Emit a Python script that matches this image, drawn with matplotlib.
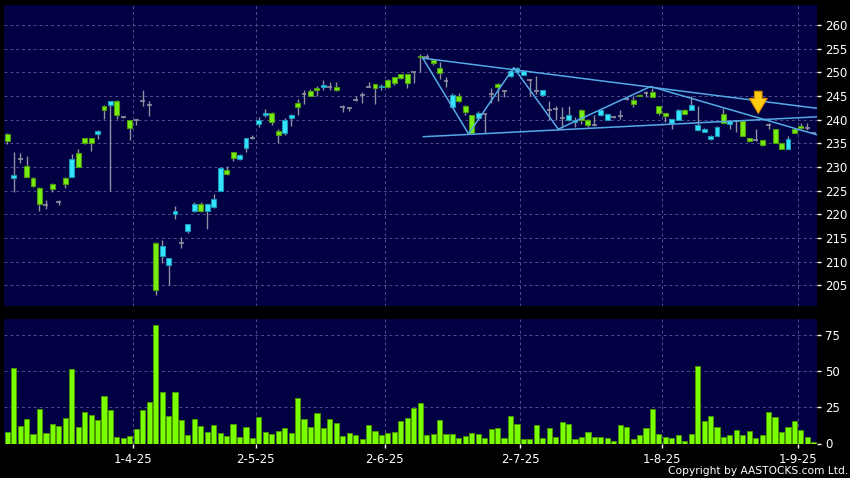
import pandas as pd
import matplotlib
matplotlib.use('Agg')
import matplotlib.pyplot as plt

# HK trading days, first bar 4 Mar 2025
START_DATE = '2025-03-04'
HOLIDAYS = ['2025-04-04', '2025-04-18', '2025-04-21', '2025-05-01', '2025-05-05', '2025-07-01']

opens = [237.0, 227.6, 231.7, 230.3, 227.7, 225.6, 221.9, 226.5, 222.6, 227.7,
         227.9, 232.9, 236.1, 236.1, 236.9, 242.8, 243.1, 244.0, 240.6, 239.9,
         240.0, 244.0, 243.0, 214.0, 211.2, 209.3, 220.1, 214.0, 216.5, 220.8,
         222.2, 220.8, 221.5, 224.9, 229.4, 233.1, 231.6, 234.0, 236.1, 239.1,
         241.0, 241.5, 237.6, 237.2, 240.4, 243.5, 245.5, 246.0, 246.7, 246.8,
         246.8, 246.8, 242.7, 242.5, 244.1, 245.3, 247.0, 247.5, 246.8, 248.4,
         249.0, 249.6, 249.6, 250.0, 253.4, 253.2, 252.6, 251.0, 248.1, 242.7,
         245.1, 242.9, 240.9, 240.3, 241.1, 245.4, 247.6, 246.1, 249.3, 250.1,
         249.5, 248.3, 246.1, 245.2, 242.1, 242.3, 240.35, 239.9, 239.5, 242.1,
         240.0, 238.9, 240.9, 240.0, 240.6, 240.7, 244.4, 244.2, 245.3, 245.7,
         245.8, 242.8, 241.4, 239.3, 240.0, 242.1, 242.1, 237.8, 237.4, 235.9,
         236.6, 241.2, 239.0, 239.8, 239.8, 236.1, 235.8, 235.6, 238.8, 238.0,
         235.0, 233.9, 238.1, 238.7, 238.3, 237.2]
highs = [237.1, 233.1, 233.0, 232.4, 227.8, 225.7, 223.0, 226.7, 223.0, 227.8,
         232.8, 233.8, 236.2, 236.2, 237.9, 243.0, 244.0, 244.1, 240.8, 240.0,
         240.1, 246.3, 244.0, 214.1, 214.6, 210.8, 221.8, 215.2, 217.9, 222.6,
         222.6, 222.1, 224.3, 229.9, 230.3, 233.2, 232.7, 236.2, 236.8, 240.5,
         242.2, 241.6, 238.0, 240.4, 241.1, 244.3, 246.2, 246.5, 247.2, 248.4,
         247.9, 247.9, 243.0, 242.6, 244.9, 245.8, 248.0, 247.6, 247.5, 248.5,
         249.1, 249.7, 249.7, 250.1, 253.8, 253.8, 252.9, 252.1, 249.1, 245.7,
         245.7, 243.0, 241.0, 241.9, 241.3, 246.6, 247.7, 246.2, 250.5, 251.2,
         250.4, 248.5, 249.3, 246.3, 243.9, 242.8, 242.6, 242.8, 240.6, 242.2,
         240.1, 241.0, 242.2, 241.3, 240.8, 242.1, 244.6, 245.1, 245.4, 246.1,
         246.6, 242.9, 241.5, 240.2, 242.2, 242.2, 245.1, 242.9, 238.2, 236.7,
         238.6, 242.4, 239.9, 240.0, 239.9, 236.2, 238.1, 235.7, 239.4, 238.1,
         235.1, 236.5, 238.2, 239.4, 239.4, 237.4]
lows = [234.8, 224.7, 230.8, 227.9, 225.8, 220.8, 221.1, 224.7, 221.9, 225.6,
        227.9, 230.1, 234.8, 233.4, 235.9, 240.1, 225.0, 240.1, 240.3, 235.7,
        238.8, 242.9, 240.8, 202.9, 209.8, 205.0, 219.0, 212.9, 216.0, 220.6,
        220.6, 217.0, 221.4, 224.9, 228.4, 231.2, 231.5, 233.1, 236.0, 238.5,
        240.6, 238.8, 235.0, 236.8, 238.6, 241.0, 243.3, 245.0, 244.9, 246.3,
        246.2, 246.0, 241.6, 241.8, 243.9, 243.5, 246.8, 243.3, 246.3, 246.7,
        247.3, 248.5, 246.6, 247.8, 250.1, 252.8, 251.6, 248.6, 246.9, 242.6,
        243.7, 241.0, 236.9, 240.0, 237.1, 243.6, 243.9, 244.8, 249.0, 250.0,
        249.4, 245.0, 245.4, 245.1, 240.0, 240.0, 238.3, 239.8, 238.4, 239.0,
        238.5, 238.6, 240.8, 239.9, 240.4, 240.1, 244.2, 242.6, 244.9, 244.8,
        244.7, 240.9, 239.6, 238.1, 239.9, 241.1, 242.0, 237.7, 237.3, 235.8,
        236.5, 239.2, 238.1, 237.4, 236.5, 235.3, 235.5, 234.5, 238.1, 235.0,
        233.9, 233.8, 237.2, 238.1, 237.8, 237.0]
closes = [235.4, 228.4, 231.7, 227.9, 226.0, 222.1, 221.9, 225.4, 222.6, 226.5,
          231.7, 230.1, 235.1, 235.1, 237.7, 242.0, 244.0, 241.0, 240.6, 238.2,
          240.0, 244.0, 243.0, 204.1, 213.4, 210.8, 220.7, 214.0, 217.9, 222.2,
          220.8, 222.1, 223.3, 229.8, 228.5, 231.9, 232.6, 236.1, 236.1, 240.0,
          241.5, 239.6, 236.8, 240.0, 241.0, 242.7, 245.5, 245.1, 246.2, 247.4,
          246.8, 246.3, 242.7, 242.5, 244.1, 245.3, 247.0, 246.6, 247.2, 247.0,
          247.8, 248.7, 247.8, 250.0, 253.2, 253.2, 252.0, 249.8, 248.1, 245.3,
          243.9, 241.6, 237.1, 241.4, 241.1, 245.4, 246.8, 246.1, 250.3, 251.0,
          250.3, 248.3, 246.1, 246.2, 242.1, 242.3, 240.35, 240.9, 240.0, 240.0,
          238.8, 238.9, 242.1, 241.2, 240.6, 240.7, 244.4, 243.3, 245.0, 245.7,
          244.8, 241.5, 240.7, 240.1, 242.1, 241.2, 243.1, 238.8, 238.1, 236.6,
          238.5, 239.3, 239.8, 239.8, 236.5, 235.4, 235.8, 234.6, 238.8, 235.0,
          233.9, 235.9, 237.2, 238.2, 238.3, 237.2]
volumes = [8.1, 52.1, 12.0, 16.9, 6.7, 23.8, 7.2, 13.7, 12.0, 17.6,
           51.9, 11.3, 21.8, 19.7, 16.2, 32.6, 23.1, 4.4, 3.9, 5.3,
           10.0, 23.4, 28.7, 82.0, 35.9, 18.8, 35.4, 16.2, 5.8, 16.9,
           12.0, 8.3, 12.5, 7.6, 5.3, 13.2, 4.6, 11.1, 3.7, 18.1,
           8.3, 6.3, 8.8, 10.4, 7.2, 31.3, 16.9, 11.3, 21.1, 10.9,
           17.1, 14.1, 5.1, 7.2, 5.6, 2.8, 12.7, 9.0, 5.6, 7.2,
           8.1, 15.5, 17.8, 24.5, 28.0, 5.6, 6.3, 16.2, 6.9, 6.3,
           3.5, 5.1, 7.6, 6.9, 3.7, 10.2, 10.6, 3.7, 19.4, 13.2,
           2.8, 2.8, 12.5, 3.7, 10.9, 4.4, 14.6, 13.4, 3.0, 4.6,
           7.9, 4.2, 4.6, 3.5, 1.6, 12.7, 11.1, 2.8, 5.6, 10.4,
           23.8, 6.9, 4.4, 3.7, 6.0, 1.6, 6.9, 53.5, 15.5, 19.0,
           11.3, 4.4, 6.0, 9.3, 6.0, 8.8, 3.9, 6.0, 21.8, 18.3,
           7.9, 11.1, 15.5, 9.7, 4.6, 0.7]

# drawn trend lines (bar index, price)
zigzag_x = [64.4, 71.5, 78.5, 85.4, 99.7, 125.5]
zigzag_y = [253.0, 237.0, 251.0, 238.0, 247.0, 236.8]
upper_x = [64.4, 125.5]
upper_y = [253.0, 242.4]
lower_x = [64.5, 125.5]
lower_y = [236.4, 240.6]

arrow_x = 116.4
arrow_top = 246.0
arrow_tip = 241.3

price_ticks = list(range(205, 261, 5))
volume_ticks = [0, 25, 50, 75]

BG = '#000042'
GRID = '#50508c'
GREEN = '#77ee11'
GREEN_EDGE = '#4f9a10'
CYAN = '#33e6ff'
CYAN_EDGE = '#1d97b5'
WICK = '#9090a2'
LINE = '#55aae6'

n = len(closes)
dates = pd.bdate_range(START_DATE, periods=n, freq='C', holidays=HOLIDAYS)
xs = list(range(n))

tick_pos = []
tick_labels = []
for i in range(1, n):
    if dates[i].month != dates[i - 1].month:
        tick_pos.append(i - 0.5)
        tick_labels.append(f"{dates[i].day}-{dates[i].month}-{dates[i]:%y}")

fig = plt.figure(figsize=(8.5, 4.78), dpi=100, facecolor='black')
ax = fig.add_axes([4 / 850, 1 - 306 / 478, 813 / 850, 301 / 478])
axv = fig.add_axes([4 / 850, 1 - 443.5 / 478, 813 / 850, 124.5 / 478])

for a in (ax, axv):
    a.set_facecolor(BG)
    for s in a.spines.values():
        s.set_visible(False)
    a.set_xlim(-0.5, n - 0.5)
    a.set_xticks(tick_pos)
    a.yaxis.tick_right()
    a.grid(True, color=GRID, linestyle=(0, (3, 3)), linewidth=0.7)
    a.set_axisbelow(True)
    a.tick_params(axis='y', colors='white', labelsize=8.5, length=3, width=1, pad=3)

# candles
up = [i for i in xs if closes[i] > opens[i]]
down = [i for i in xs if closes[i] < opens[i]]
flat = [i for i in xs if closes[i] == opens[i]]
body_w = 0.76

ax.vlines(xs, lows, highs, color=WICK, linewidth=1, zorder=2)
ax.bar(up, [closes[i] - opens[i] for i in up], bottom=[opens[i] for i in up],
       width=body_w, color=CYAN, edgecolor=CYAN_EDGE, linewidth=0.8, zorder=3)
ax.bar(down, [opens[i] - closes[i] for i in down], bottom=[closes[i] for i in down],
       width=body_w, color=GREEN, edgecolor=GREEN_EDGE, linewidth=0.8, zorder=3)
ax.hlines([closes[i] for i in flat], [i - body_w / 2 for i in flat], [i + body_w / 2 for i in flat],
          color=WICK, linewidth=1.2, zorder=3)

ax.plot(zigzag_x, zigzag_y, color=LINE, linewidth=1.1, zorder=4)
ax.plot(upper_x, upper_y, color=LINE, linewidth=1.1, zorder=4)
ax.plot(lower_x, lower_y, color=LINE, linewidth=1.1, zorder=4)

ax.annotate('', xy=(arrow_x, arrow_tip), xytext=(arrow_x, arrow_top), zorder=5,
            arrowprops=dict(arrowstyle='simple,head_width=0.8,head_length=0.68,tail_width=0.34',
                            fc='#ffcc11', ec='#d98a00', lw=0.8, mutation_scale=16,
                            shrinkA=0, shrinkB=0))

ax.set_ylim(200.64, 264.22)
ax.set_yticks(price_ticks)
ax.tick_params(axis='x', length=0, labelbottom=False)

# volume
axv.bar(xs, volumes, width=0.8, color='#7aff00', edgecolor='#4a9400', linewidth=0.7, zorder=3)
axv.set_ylim(0, 86.3)
axv.set_yticks(volume_ticks)
axv.set_xticklabels(tick_labels)
axv.tick_params(axis='x', colors='white', labelsize=8.5, length=3, width=1, pad=4)

fig.text(848 / 850, 1 - 471 / 478, 'Copyright by AASTOCKS.com Ltd.', ha='right', va='center',
         color='white', fontsize=7.7)

fig.savefig('out.png', dpi=100, facecolor='black')
